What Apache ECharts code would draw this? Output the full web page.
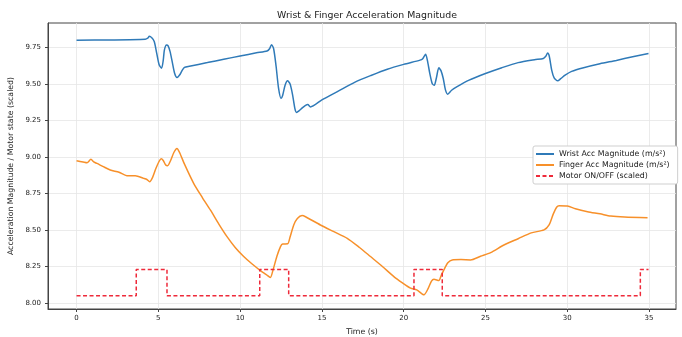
<!DOCTYPE html>
<html>
<head>
<meta charset="utf-8">
<script src="https://cdn.jsdelivr.net/npm/echarts@6/dist/echarts.min.js"></script>
<style>html,body{margin:0;padding:0;background:#fff}#c{width:682px;height:337px}</style>
</head>
<body>
<div id="c"></div>
<script>
const titleText = "Wrist & Finger Acceleration Magnitude";
const xLabel = "Time (s)";
const yLabel = "Acceleration Magnitude / Motor state (scaled)";
const seriesNames = ["Wrist Acc Magnitude (m/s²)", "Finger Acc Magnitude (m/s²)", "Motor ON/OFF (scaled)"];
const xTicks = [0, 5, 10, 15, 20, 25, 30, 35];
const yTicks = [8.00, 8.25, 8.50, 8.75, 9.00, 9.25, 9.50, 9.75];

const wrist = [[0,9.798],[2,9.800],[4.2,9.805],[4.35,9.812],[4.45,9.825],[4.6,9.815],[4.75,9.79],[4.9,9.71],[5.05,9.63],[5.2,9.607],[5.3,9.66],[5.37,9.73],[5.5,9.765],[5.6,9.76],[5.72,9.72],[5.85,9.65],[6.0,9.57],[6.14,9.543],[6.3,9.56],[6.45,9.59],[6.6,9.612],[6.9,9.62],[8,9.645],[9,9.668],[10,9.69],[11,9.712],[11.65,9.725],[11.8,9.74],[11.92,9.768],[12.05,9.74],[12.2,9.62],[12.35,9.47],[12.5,9.40],[12.6,9.42],[12.75,9.49],[12.9,9.52],[13.05,9.50],[13.2,9.43],[13.35,9.33],[13.45,9.304],[13.6,9.315],[13.8,9.335],[14.0,9.352],[14.14,9.358],[14.3,9.342],[15,9.39],[16,9.45],[17,9.51],[18,9.557],[19,9.60],[20,9.633],[21.0,9.662],[21.15,9.67],[21.34,9.702],[21.45,9.66],[21.6,9.57],[21.75,9.50],[21.87,9.49],[22.0,9.54],[22.15,9.609],[22.28,9.59],[22.42,9.536],[22.55,9.46],[22.69,9.429],[22.93,9.456],[23.24,9.479],[24,9.525],[25,9.57],[26,9.61],[27,9.645],[28,9.665],[28.54,9.673],[28.7,9.69],[28.8,9.711],[28.9,9.69],[29.05,9.593],[29.2,9.54],[29.42,9.52],[29.6,9.535],[29.87,9.559],[30.27,9.585],[31,9.61],[32,9.637],[33,9.66],[34,9.685],[34.97,9.707]];

const finger = [[0,8.973],[0.4,8.965],[0.64,8.96],[0.88,8.983],[1.05,8.965],[1.25,8.955],[1.6,8.935],[2.06,8.91],[2.6,8.895],[3.08,8.871],[3.59,8.871],[4.1,8.853],[4.3,8.845],[4.47,8.83],[4.65,8.86],[4.85,8.92],[5.05,8.97],[5.18,8.987],[5.3,8.975],[5.45,8.945],[5.57,8.94],[5.75,8.975],[5.95,9.03],[6.14,9.058],[6.3,9.03],[6.6,8.95],[7.16,8.819],[7.7,8.72],[8.18,8.637],[8.7,8.54],[9.2,8.454],[9.7,8.38],[10.22,8.318],[10.7,8.27],[11.24,8.222],[11.6,8.195],[11.85,8.175],[12.0,8.22],[12.25,8.32],[12.47,8.386],[12.6,8.404],[12.91,8.405],[13.05,8.45],[13.28,8.534],[13.5,8.578],[13.79,8.598],[14.0,8.59],[14.91,8.534],[15.7,8.49],[16.55,8.443],[17.3,8.38],[17.97,8.318],[18.7,8.25],[19.4,8.181],[19.9,8.14],[20.42,8.102],[20.8,8.09],[21.24,8.056],[21.5,8.10],[21.7,8.15],[21.85,8.163],[22.15,8.154],[22.3,8.19],[22.46,8.227],[22.7,8.275],[22.97,8.295],[23.5,8.297],[24.09,8.295],[24.7,8.32],[25.32,8.345],[26.13,8.397],[27,8.44],[27.8,8.48],[28.58,8.5],[28.89,8.534],[29.15,8.61],[29.35,8.655],[29.5,8.666],[30.01,8.664],[30.5,8.645],[31.24,8.625],[32,8.61],[32.66,8.595],[33.5,8.588],[34.91,8.584]];

const motor = [[0,8.05],[3.65,8.05],[3.65,8.23],[5.53,8.23],[5.53,8.05],[11.2,8.05],[11.2,8.23],[12.97,8.23],[12.97,8.05],[20.63,8.05],[20.63,8.23],[22.36,8.23],[22.36,8.05],[34.47,8.05],[34.47,8.23],[34.97,8.23]];

const FONT = "DejaVu Sans";
const chart = echarts.init(document.getElementById('c'), null, {renderer: 'canvas'});
const axisCommon = {
  axisLine: {onZero: false, lineStyle: {color: '#444', width: 1}},
  splitLine: {show: true, lineStyle: {color: '#e6e6e6', width: 0.8}},
  nameTextStyle: {fontFamily: FONT, fontSize: 7.8, color: '#222'}
};
chart.setOption({
  animation: false,
  backgroundColor: '#fff',
  title: {text: titleText, left: 362, top: 6, textAlign: 'center',
    textStyle: {fontFamily: FONT, fontSize: 9.4, fontWeight: 'normal', color: '#222'}},
  grid: {left: 48, right: 6, top: 23, bottom: 28, containLabel: false, outerBoundsMode: 'none',
    show: true, borderColor: '#444', borderWidth: 1, backgroundColor: 'transparent'},
  legend: {
    orient: 'vertical', left: 533, top: 146, padding: [3.5, 8, 3.5, 2],
    backgroundColor: '#fff', borderColor: '#cfcfcf', borderWidth: 1, borderRadius: 2,
    itemWidth: 18, itemHeight: 9, itemGap: 2,
    itemStyle: {opacity: 0},
    textStyle: {fontFamily: FONT, fontSize: 7.85, color: '#222', lineHeight: 9},
    data: seriesNames.map(n => ({name: n}))
  },
  xAxis: Object.assign({}, axisCommon, {
    type: 'value', min: -1.745, max: 36.65, name: xLabel, nameLocation: 'middle', nameGap: 18.5,
    axisTick: {show: true, length: 3, inside: false, customValues: xTicks, lineStyle: {color: '#444'}},
    axisLabel: {customValues: xTicks, margin: 6, fontFamily: FONT, fontSize: 7, color: '#222'}
  }),
  yAxis: Object.assign({}, axisCommon, {
    type: 'value', min: 7.959, max: 9.916, name: yLabel, nameLocation: 'middle', nameGap: 24, nameRotate: 90,
    axisTick: {show: true, length: 3, inside: false, customValues: yTicks, lineStyle: {color: '#444'}},
    axisLabel: {customValues: yTicks, margin: 7, fontFamily: FONT, fontSize: 7, color: '#222',
      formatter: v => Number(v).toFixed(2)}
  }),
  series: [
    {name: seriesNames[0], type: 'line', data: wrist, showSymbol: false, symbol: 'none', smooth: 0.25,
      lineStyle: {color: '#2f7ab8', width: 1.5}, itemStyle: {color: '#2f7ab8'}},
    {name: seriesNames[1], type: 'line', data: finger, showSymbol: false, symbol: 'none', smooth: 0.25,
      lineStyle: {color: '#f7902a', width: 1.5}, itemStyle: {color: '#f7902a'}},
    {name: seriesNames[2], type: 'line', data: motor, showSymbol: false, symbol: 'none',
      lineStyle: {color: '#ee2a3a', width: 1.5, type: [4, 2.5]}, itemStyle: {color: '#ee2a3a'}}
  ]
});
</script>
</body>
</html>
